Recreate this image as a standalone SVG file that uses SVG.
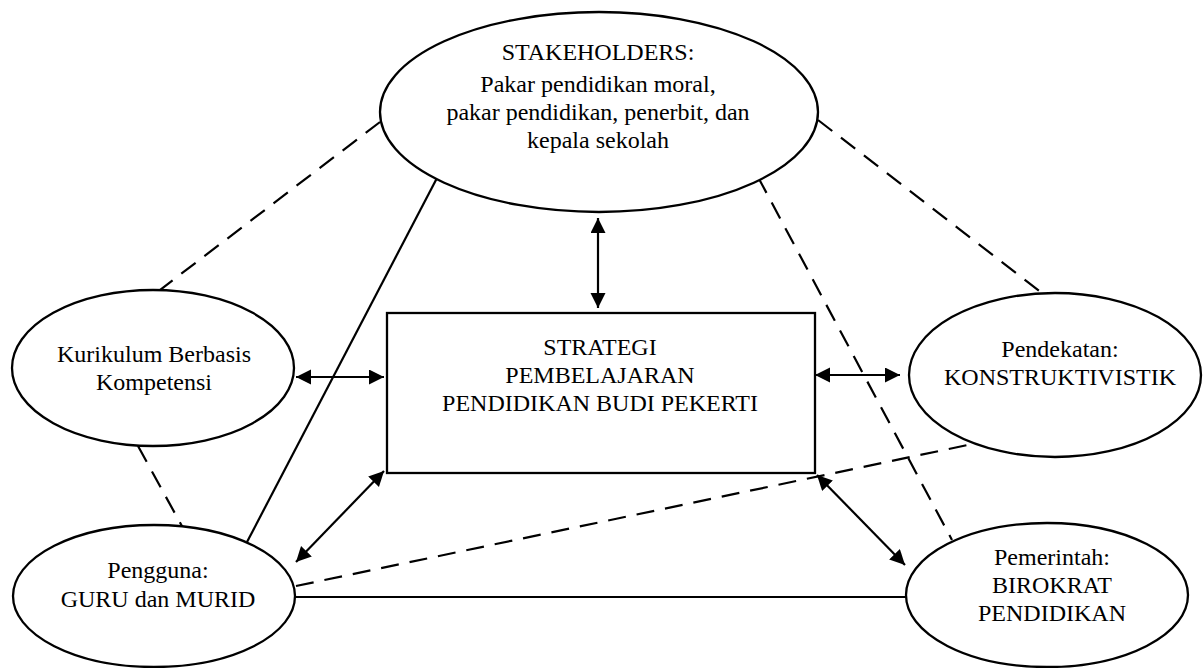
<svg xmlns="http://www.w3.org/2000/svg" width="1204" height="668" viewBox="0 0 1204 668">
<style>
.shape{fill:#fff;stroke:#000;stroke-width:2.3}
.ln{stroke:#000;stroke-width:2.2;fill:none}
.dash{stroke-dasharray:18 11}
text{font-family:"Liberation Serif","Times New Roman",serif;font-size:24px;fill:#000;text-anchor:middle}
</style>
<defs>
<marker id="ah" markerUnits="userSpaceOnUse" markerWidth="16" markerHeight="16" refX="15" refY="7.5" orient="auto-start-reverse" viewBox="0 0 16 16">
<path d="M0,0 L15,7.5 L0,15 z" fill="#000"/>
</marker>
</defs>
<rect width="1204" height="668" fill="#fff"/>
<g id="connectors">
<line class="ln dash" x1="380" y1="122" x2="143" y2="303"/>
<line class="ln dash" x1="818" y1="120" x2="1055" y2="303"/>
<line class="ln" x1="437" y1="178" x2="247" y2="542"/>
<line class="ln dash" x1="758" y1="177" x2="952" y2="540"/>
<line class="ln dash" x1="138" y1="446" x2="183" y2="528"/>
<line class="ln dash" x1="296" y1="586" x2="982" y2="442"/>
<line class="ln" x1="296" y1="597" x2="906" y2="597"/>
<line class="ln" x1="598" y1="218" x2="598" y2="308" marker-start="url(#ah)" marker-end="url(#ah)"/>
<line class="ln" x1="296" y1="377" x2="384" y2="377" marker-start="url(#ah)" marker-end="url(#ah)"/>
<line class="ln" x1="815" y1="375" x2="900" y2="375" marker-start="url(#ah)" marker-end="url(#ah)"/>
<line class="ln" x1="296" y1="562" x2="384" y2="471" marker-start="url(#ah)" marker-end="url(#ah)"/>
<line class="ln" x1="817" y1="475" x2="905" y2="565" marker-start="url(#ah)" marker-end="url(#ah)"/>
</g>
<g id="stakeholders">
<ellipse class="shape" cx="599" cy="112" rx="219" ry="100"/>
<text x="598" y="60">STAKEHOLDERS:</text>
<text x="598" y="92">Pakar pendidikan moral,</text>
<text x="598" y="120">pakar pendidikan, penerbit, dan</text>
<text x="598" y="148">kepala sekolah</text>
</g>
<g id="strategi">
<rect class="shape" x="387" y="313" width="428" height="160" stroke-width="2.5"/>
<text x="600" y="355">STRATEGI</text>
<text x="600" y="383">PEMBELAJARAN</text>
<text x="600" y="411">PENDIDIKAN BUDI PEKERTI</text>
</g>
<g id="kurikulum">
<ellipse class="shape" cx="153" cy="368" rx="141" ry="78"/>
<text x="154" y="362">Kurikulum Berbasis</text>
<text x="154" y="390">Kompetensi</text>
</g>
<g id="pendekatan">
<ellipse class="shape" cx="1055" cy="375" rx="146" ry="82"/>
<text x="1060" y="357">Pendekatan:</text>
<text x="1060" y="385">KONSTRUKTIVISTIK</text>
</g>
<g id="pengguna">
<ellipse class="shape" cx="154" cy="596" rx="141" ry="71"/>
<text x="158" y="578">Pengguna:</text>
<text x="158" y="607">GURU dan MURID</text>
</g>
<g id="pemerintah">
<ellipse class="shape" cx="1047" cy="595" rx="141" ry="72"/>
<text x="1052" y="565">Pemerintah:</text>
<text x="1052" y="593">BIROKRAT</text>
<text x="1052" y="621">PENDIDIKAN</text>
</g>
</svg>
